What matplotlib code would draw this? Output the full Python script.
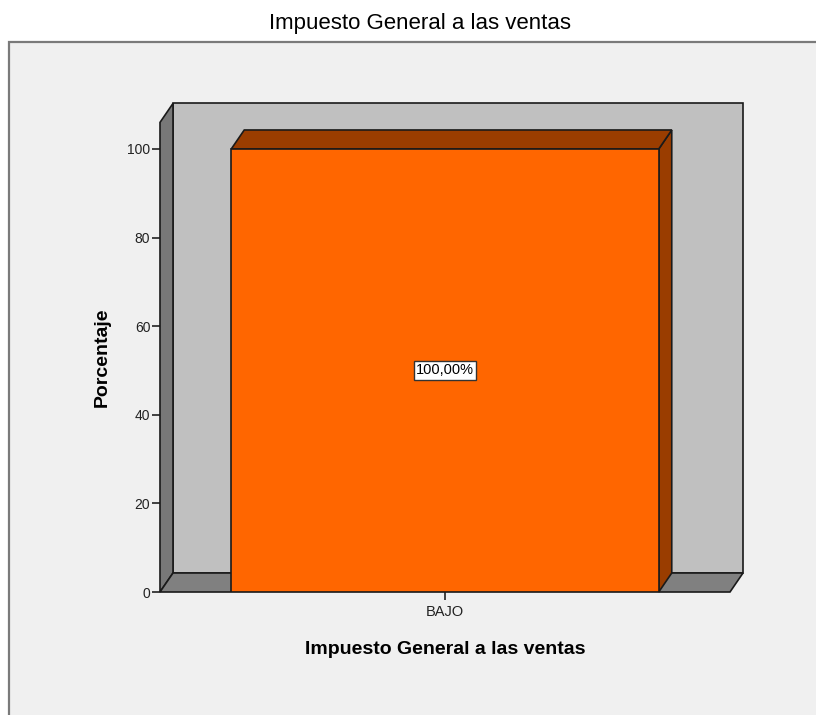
#!/usr/bin/env python3
"""SPSS style 3D bar chart: Impuesto General a las ventas."""

import matplotlib
matplotlib.use('Agg')
import matplotlib.pyplot as plt
from matplotlib.patches import Polygon, Rectangle

# data
categories = ['BAJO']
percentages = [100.0]
title_text = 'Impuesto General a las ventas'
x_title = 'Impuesto General a las ventas'
y_title = 'Porcentaje'
y_ticks = [0, 20, 40, 60, 80, 100]

# colours
FIG_BG = '#ffffff'
PANEL_BG = '#f0f0f0'
BACK_WALL = '#c0c0c0'
SIDE_WALL = '#787878'
FLOOR = '#808080'
BAR_FRONT = '#ff6600'
BAR_SHADE = '#9a3d00'
EDGE = '#1a1a1a'

plt.rcParams['font.family'] = ['Liberation Sans', 'DejaVu Sans']

fig = plt.figure(figsize=(8.16, 7.15), dpi=100, facecolor=FIG_BG)

# grey panel with frame, like the SPSS viewer
fig.patches.append(Rectangle((9 / 816, -0.05), 1.05, (715 - 42) / 715 + 0.05,
                             transform=fig.transFigure, facecolor=PANEL_BG,
                             edgecolor='#7a7a7a', linewidth=1.6, zorder=-5))

ax = fig.add_axes([160 / 816, (715 - 592) / 715, 570 / 816, 469.6 / 715])
ax.set_facecolor('none')
for s in ax.spines.values():
    s.set_visible(False)

xmin, xmax = -0.5, 0.5
ymin, ymax = 0, 106
ax.set_xlim(xmin, xmax)
ax.set_ylim(ymin, ymax)

# depth offset of the 3D effect (data units)
dx = 13 / 570 * (xmax - xmin)
dy = 19 / (469.6 / ymax)


def poly(pts, color, z):
    ax.add_patch(Polygon(pts, closed=True, facecolor=color, edgecolor=EDGE,
                         linewidth=1.2, joinstyle='miter', clip_on=False, zorder=z))


# back wall, side wall, floor
poly([(xmin + dx, dy), (xmax + dx, dy), (xmax + dx, ymax + dy), (xmin + dx, ymax + dy)], BACK_WALL, 1)
poly([(xmin, 0), (xmin + dx, dy), (xmin + dx, ymax + dy), (xmin, ymax)], SIDE_WALL, 2)
poly([(xmin, 0), (xmax, 0), (xmax + dx, dy), (xmin + dx, dy)], FLOOR, 2)

bar_w = 0.75
for i, (cat, val) in enumerate(zip(categories, percentages)):
    x0, x1 = i - bar_w / 2, i + bar_w / 2
    poly([(x1, 0), (x1 + dx, dy), (x1 + dx, val + dy), (x1, val)], BAR_SHADE, 3)
    poly([(x0, val), (x0 + dx, val + dy), (x1 + dx, val + dy), (x1, val)], BAR_SHADE, 3)
    ax.bar(i, val, width=bar_w, color=BAR_FRONT, edgecolor=EDGE, linewidth=1.2, zorder=4)
    ax.text(i, val / 2, f'{val:.2f}%'.replace('.', ','), ha='center', va='center',
            fontsize=10.5, zorder=5,
            bbox=dict(boxstyle='square,pad=0.15', facecolor='white', edgecolor='#333333', linewidth=1.0))

ax.set_xticks(range(len(categories)))
ax.set_xticklabels(categories, fontsize=10.5, color='#222222')
ax.set_yticks(y_ticks)
ax.set_yticklabels([str(t) for t in y_ticks], fontsize=10, color='#222222')
ax.tick_params(axis='both', direction='out', length=6, width=1.2, color='#222222', pad=1)
ax.tick_params(axis='x', pad=3)

ax.set_xlabel(x_title, fontsize=14, fontweight='bold', labelpad=16)
ax.set_ylabel(y_title, fontsize=14, fontweight='bold', labelpad=12)

fig.text(420 / 816, (715 - 24) / 715, title_text, ha='center', va='center', fontsize=16)

plt.savefig('out.png', dpi=100, facecolor=FIG_BG)
